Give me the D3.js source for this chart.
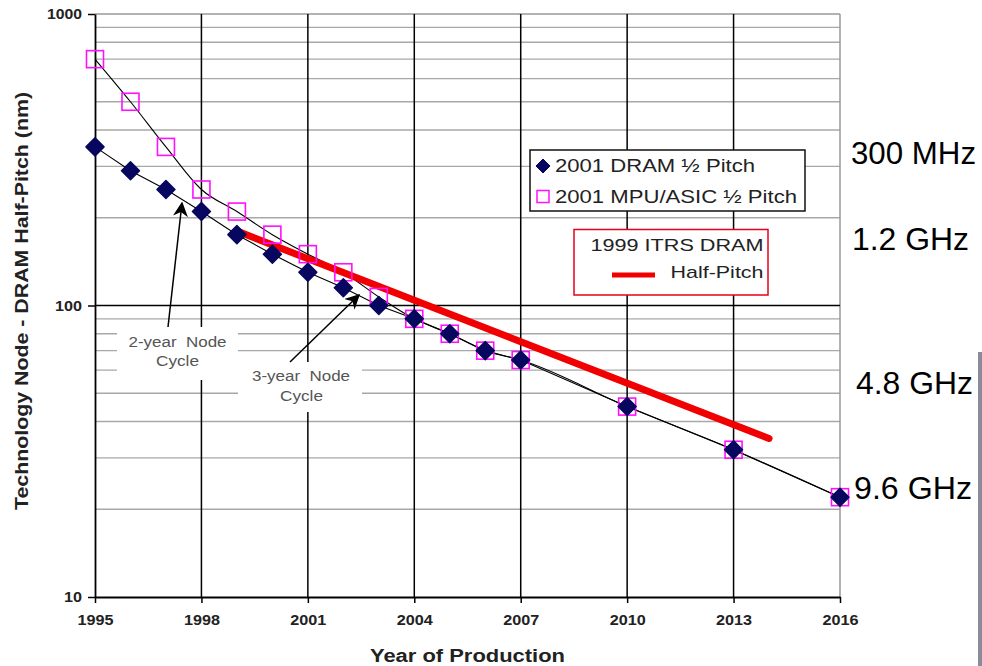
<!DOCTYPE html>
<html>
<head>
<meta charset="utf-8">
<script src="https://cdn.jsdelivr.net/npm/d3@7"></script>
<style>
  html, body { margin: 0; padding: 0; background: #ffffff; }
  svg { display: block; font-family: "Liberation Sans", Arial, sans-serif; }
  .keep-space { white-space: pre; }
</style>
</head>
<body>
<svg id="chart" width="982" height="666"></svg>
<script>
// Production years and half-pitch values (nm)
const years = [1995, 1996, 1997, 1998, 1999, 2000, 2001, 2002, 2003, 2004, 2005, 2006, 2007, 2010, 2013, 2016];
const dramHalfPitch = [350, 290, 250, 210, 175, 150, 130, 115, 100, 90, 80, 70, 65, 45, 32, 22];
const mpuHalfPitch = [700, 500, 350, 250, 210, 175, 150, 130, 107, 90, 80, 70, 65, 45, 32, 22];

// 1999 ITRS DRAM half-pitch roadmap (start and end of the trend)
const itrsYears = [1999, 2014];
const itrsHalfPitch = [180, 35];

// Axis ticks
const xTickYears = [1995, 1998, 2001, 2004, 2007, 2010, 2013, 2016];
const yTickValues = [10, 100, 1000];
const yMinorValues = [20, 30, 40, 50, 60, 70, 80, 90, 200, 300, 400, 500, 600, 700, 800, 900];

// Clock frequency labels on the right
const clockLabels = ["300 MHz", "1.2 GHz", "4.8 GHz", "9.6 GHz"];

const svg = d3.select("#chart");
const plotL = 95, plotR = 840, plotT = 14, plotB = 597;

const x = d3.scaleLinear().domain([1995, 2016]).range([plotL, plotR]);
const y = d3.scaleLog().domain([10, 1000]).range([plotB, plotT]);

function addText(parent, str, px, py, opt) {
  const t = parent.append("text")
    .attr("x", px).attr("y", py)
    .attr("font-size", opt.size)
    .attr("font-weight", opt.weight || "normal")
    .attr("text-anchor", opt.anchor || "start")
    .attr("fill", opt.fill || "#222")
    .text(str);
  if (opt.width) t.attr("textLength", opt.width).attr("lengthAdjust", "spacingAndGlyphs");
  if (opt.rotate) t.attr("transform", `rotate(${opt.rotate},${px},${py})`);
  if (opt.pre) t.attr("class", "keep-space");
  return t;
}

// Minor horizontal grid lines
svg.append("g").selectAll("line").data(yMinorValues).join("line")
  .attr("x1", plotL).attr("x2", plotR)
  .attr("y1", d => y(d)).attr("y2", d => y(d))
  .attr("stroke", "#a8a8a8").attr("stroke-width", 1.3);

// Top and right frame
svg.append("line").attr("x1", plotL).attr("x2", plotR).attr("y1", y(1000)).attr("y2", y(1000))
  .attr("stroke", "#999").attr("stroke-width", 1.5);
svg.append("line").attr("x1", x(2016)).attr("x2", x(2016)).attr("y1", plotT).attr("y2", plotB)
  .attr("stroke", "#999").attr("stroke-width", 1.5);

// Major grid: 100 nm and every third year
svg.append("line").attr("x1", plotL).attr("x2", plotR).attr("y1", y(100)).attr("y2", y(100))
  .attr("stroke", "#000").attr("stroke-width", 1.5);
svg.append("g").selectAll("line").data(xTickYears.slice(1, -1)).join("line")
  .attr("x1", d => x(d)).attr("x2", d => x(d))
  .attr("y1", plotT).attr("y2", plotB)
  .attr("stroke", "#000").attr("stroke-width", 1.5);

// Axes
const yAxis = svg.append("g").attr("transform", `translate(${plotL},0)`)
  .call(d3.axisLeft(y).tickValues(yTickValues).tickFormat(d3.format("d")).tickSize(7).tickSizeOuter(0).tickPadding(6));
const xAxis = svg.append("g").attr("transform", `translate(0,${plotB})`)
  .call(d3.axisBottom(x).tickValues(xTickYears).tickFormat(d3.format("d")).tickSize(6).tickSizeOuter(0).tickPadding(8));
[yAxis, xAxis].forEach(a => {
  a.select(".domain").attr("stroke", "#000").attr("stroke-width", 1.8);
  a.selectAll(".tick line").attr("stroke", "#000").attr("stroke-width", 1.5);
  a.selectAll(".tick text").attr("font-family", "Liberation Sans, Arial, sans-serif")
    .attr("font-weight", "bold").attr("font-size", 15.5).attr("fill", "#222")
    .attr("textLength", 36).attr("lengthAdjust", "spacingAndGlyphs");
});
yAxis.selectAll(".tick text").attr("textLength", d => d === 1000 ? 35 : (d === 100 ? 27 : 18));
xAxis.selectAll(".tick text").attr("dy", "0.9em");

// Annotation boxes (white background behind the cycle notes)
const notes = svg.append("g");
notes.append("rect").attr("x", 117).attr("y", 327).attr("width", 121).attr("height", 53).attr("fill", "#fff");
notes.append("rect").attr("x", 238).attr("y", 362).attr("width", 124).attr("height", 50).attr("fill", "#fff");
addText(notes, "2-year  Node", 177.5, 347, { size: 14, anchor: "middle", width: 98, fill: "#555", pre: true });
addText(notes, "Cycle", 177.5, 366, { size: 14, anchor: "middle", width: 43, fill: "#555" });
addText(notes, "3-year  Node", 301, 381, { size: 14, anchor: "middle", width: 98, fill: "#555", pre: true });
addText(notes, "Cycle", 301.5, 401, { size: 14, anchor: "middle", width: 43, fill: "#555" });

// Arrow heads
svg.append("defs").append("marker")
  .attr("id", "arrow").attr("viewBox", "0 0 10 10").attr("refX", 9).attr("refY", 5)
  .attr("markerWidth", 15).attr("markerHeight", 15).attr("markerUnits", "userSpaceOnUse")
  .attr("orient", "auto")
  .append("path").attr("d", "M0,0 L10,5 L0,10 L3,5 Z").attr("fill", "#000");

svg.append("line").attr("x1", 168).attr("y1", 327).attr("x2", 182).attr("y2", 203)
  .attr("stroke", "#000").attr("stroke-width", 1.5).attr("marker-end", "url(#arrow)");
svg.append("line").attr("x1", 290).attr("y1", 362).attr("x2", 359).attr("y2", 295)
  .attr("stroke", "#000").attr("stroke-width", 1.5).attr("marker-end", "url(#arrow)");

// Trend lines through the 2001 series
const dramPts = years.map((yr, i) => [yr, dramHalfPitch[i]]);
const mpuPts = years.map((yr, i) => [yr, mpuHalfPitch[i]]);
const straight = d3.line().x(d => x(d[0])).y(d => y(d[1]));
const smooth = d3.line().x(d => x(d[0])).y(d => y(d[1])).curve(d3.curveMonotoneX);
svg.append("path").attr("d", smooth(mpuPts))
  .attr("fill", "none").attr("stroke", "#000").attr("stroke-width", 1.1);
svg.append("path").attr("d", straight(dramPts))
  .attr("fill", "none").attr("stroke", "#000").attr("stroke-width", 1.1);

// 1999 ITRS roadmap line
const itrsPts = itrsYears.map((yr, i) => [yr, itrsHalfPitch[i]]);
svg.append("path").attr("d", straight(itrsPts))
  .attr("fill", "none").attr("stroke", "#f00000").attr("stroke-width", 7).attr("stroke-linecap", "round");

// Markers: MPU squares, DRAM diamonds
const sq = 17;
svg.append("g").selectAll("rect").data(mpuPts).join("rect")
  .attr("x", d => x(d[0]) - sq / 2).attr("y", d => y(d[1]) - sq / 2)
  .attr("width", sq).attr("height", sq)
  .attr("fill", "none").attr("stroke", "#ff10ff").attr("stroke-width", 1.6);
const diamond = "M0,-9 L9,0 L0,9 L-9,0 Z";
svg.append("g").selectAll("path").data(dramPts).join("path")
  .attr("d", diamond)
  .attr("transform", d => `translate(${x(d[0])},${y(d[1])})`)
  .attr("fill", "#07075f").attr("stroke", "#07075f").attr("stroke-width", 1.5).attr("stroke-linejoin", "round");

// Legend for the 2001 series
const lg = svg.append("g");
lg.append("rect").attr("x", 530).attr("y", 150).attr("width", 275).attr("height", 61)
  .attr("fill", "#fff").attr("stroke", "#111").attr("stroke-width", 1.5);
lg.append("path").attr("d", "M0,-7 L7,0 L0,7 L-7,0 Z").attr("transform", "translate(543,166)")
  .attr("fill", "#07075f").attr("stroke", "#07075f").attr("stroke-linejoin", "round");
lg.append("rect").attr("x", 537).attr("y", 190.5).attr("width", 12).attr("height", 12)
  .attr("fill", "none").attr("stroke", "#ff10ff").attr("stroke-width", 1.5);
addText(lg, "2001 DRAM ½ Pitch", 555, 172, { size: 18, width: 200 });
addText(lg, "2001 MPU/ASIC ½ Pitch", 555, 203, { size: 18, width: 242 });

// Legend for the 1999 roadmap
const lg2 = svg.append("g");
lg2.append("rect").attr("x", 574).attr("y", 229.5).attr("width", 194).attr("height", 65.5)
  .attr("fill", "#fff").attr("stroke", "#e8001c").attr("stroke-width", 1.5);
lg2.append("line").attr("x1", 612).attr("x2", 655).attr("y1", 275).attr("y2", 275)
  .attr("stroke", "#f00000").attr("stroke-width", 5);
addText(lg2, "1999 ITRS DRAM", 763.5, 251, { size: 17, anchor: "end", width: 173 });
addText(lg2, "Half-Pitch", 763.5, 278, { size: 17, anchor: "end", width: 93 });

// Axis titles
addText(svg, "Year of Production", 467.5, 662, { size: 18, weight: "bold", anchor: "middle", width: 195 });
addText(svg, "Technology Node - DRAM Half-Pitch (nm)", 27.5, 301, { size: 18, weight: "bold", anchor: "middle", width: 418, rotate: -90 });

// Clock frequency labels
const clockPos = [[851, 163.5], [852, 250], [856, 393.5], [854, 498.5]];
const clockW = [125, 117, 117, 118];
clockLabels.forEach((s, i) => {
  addText(svg, s, clockPos[i][0], clockPos[i][1], { size: 31, fill: "#000", width: clockW[i] });
});

// Thin gray bar at the right edge
svg.append("rect").attr("x", 978).attr("y", 352).attr("width", 4).attr("height", 314).attr("fill", "#8a8a98");
</script>
</body>
</html>
